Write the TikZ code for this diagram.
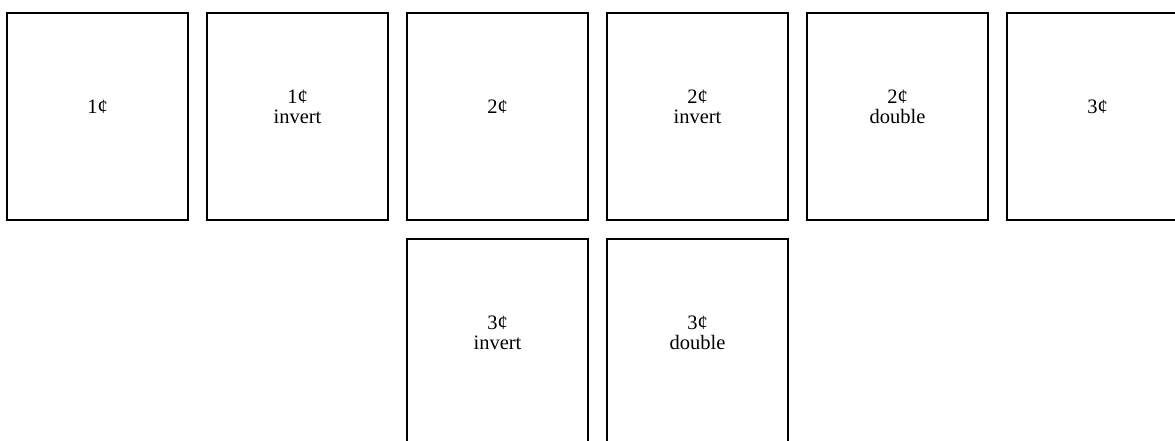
\documentclass[tikz,border=0pt]{standalone}
\usepackage{fontspec}
\setmainfont{Liberation Serif}
\begin{document}
\begin{tikzpicture}[x=1pt,y=-1pt,
  cell/.style={draw=black,line width=1.6pt,rectangle,minimum width=181pt,minimum height=207pt,inner sep=0pt},
  lbl/.style={align=center,font=\fontsize{20.5}{20}\selectfont,inner sep=0pt}]
\useasboundingbox (0,0) rectangle (1175,440);
\clip (0,0) rectangle (1175,440);
\node[cell] (b1) at (97.5,116.5) {};
\node[cell] (b2) at (297.5,116.5) {};
\node[cell] (b3) at (497.5,116.5) {};
\node[cell] (b4) at (697.5,116.5) {};
\node[cell] (b5) at (897.5,116.5) {};
\node[cell] (b6) at (1097.5,116.5) {};
\node[cell] (b7) at (497.5,342.5) {};
\node[cell] (b8) at (697.5,342.5) {};
\node[lbl] (t1) at (97.5,107) {1¢};
\node[lbl] (t2) at (297.5,107) {1¢\\invert};
\node[lbl] (t3) at (497.5,107) {2¢};
\node[lbl] (t4) at (697.5,107) {2¢\\invert};
\node[lbl] (t5) at (897.5,107) {2¢\\double};
\node[lbl] (t6) at (1097.5,107) {3¢};
\node[lbl] (t7) at (497.5,333) {3¢\\invert};
\node[lbl] (t8) at (697.5,333) {3¢\\double};
\end{tikzpicture}
\end{document}
